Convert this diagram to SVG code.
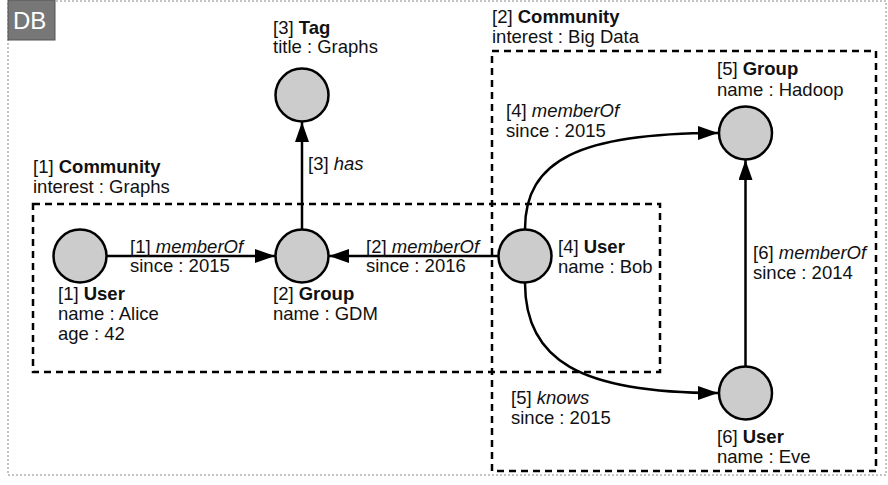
<svg xmlns="http://www.w3.org/2000/svg" width="888" height="485" viewBox="0 0 888 485">
<defs>
<style>
text{font-family:"Liberation Sans",Arial,sans-serif;font-size:18.5px;fill:#111}
.b{font-weight:bold}
.i{font-style:italic}
.node{fill:#cccccc;stroke:#000;stroke-width:2.5}
.edge{fill:none;stroke:#000;stroke-width:2.5;marker-end:url(#arr)}
.comm{fill:none;stroke:#000;stroke-width:2.5;stroke-dasharray:7,5}
</style>
<marker id="arr" markerUnits="userSpaceOnUse" markerWidth="22" markerHeight="16" refX="20" refY="7" orient="auto">
<path d="M0,0 L20,7 L0,14 z" fill="#000"/>
</marker>
</defs>
<rect width="888" height="485" fill="#fff"/>
<g id="db">
<rect x="8" y="1" width="878" height="474" fill="none" stroke="#888" stroke-width="1" stroke-dasharray="2,2"/>
<rect x="8" y="0" width="47" height="40" fill="#777" stroke="#555" stroke-width="1"/>
<text x="13" y="29" style="font-size:24px;fill:#fff">DB</text>
</g>
<g id="community1">
<rect class="comm" x="33" y="204" width="627" height="168"/>
<text x="33" y="173">[1] <tspan class="b">Community</tspan></text>
<text x="33" y="193">interest : Graphs</text>
</g>
<g id="community2">
<rect class="comm" x="492" y="51" width="384" height="420"/>
<text x="492" y="23">[2] <tspan class="b">Community</tspan></text>
<text x="492" y="43">interest : Big Data</text>
</g>
<g id="connectors">
<line class="edge" x1="107" y1="256" x2="275" y2="256"/>
<line class="edge" x1="498" y1="256" x2="329" y2="256"/>
<line class="edge" x1="302" y1="229" x2="302" y2="122"/>
<line class="edge" x1="745.5" y1="366" x2="745.5" y2="160"/>
<path class="edge" d="M525,229 C525,160 580,133 718,133"/>
<path class="edge" d="M525,283 C525,360 580,393 718,393"/>
<text x="130" y="253">[1] <tspan class="i">memberOf</tspan></text>
<text x="130" y="272">since : 2015</text>
<text x="366" y="253">[2] <tspan class="i">memberOf</tspan></text>
<text x="366" y="272">since : 2016</text>
<text x="308" y="170">[3] <tspan class="i">has</tspan></text>
<text x="506" y="117">[4] <tspan class="i">memberOf</tspan></text>
<text x="506" y="137">since : 2015</text>
<text x="511" y="404">[5] <tspan class="i">knows</tspan></text>
<text x="511" y="424">since : 2015</text>
<text x="753" y="259">[6] <tspan class="i">memberOf</tspan></text>
<text x="753" y="279">since : 2014</text>
</g>
<g id="n1">
<circle class="node" cx="80" cy="256" r="26.5"/>
<text x="58" y="300">[1] <tspan class="b">User</tspan></text>
<text x="58" y="320">name : Alice</text>
<text x="58" y="340">age : 42</text>
</g>
<g id="n2">
<circle class="node" cx="302" cy="256" r="26.5"/>
<text x="273" y="300">[2] <tspan class="b">Group</tspan></text>
<text x="273" y="320">name : GDM</text>
</g>
<g id="n3">
<circle class="node" cx="302" cy="95" r="26.5"/>
<text x="273" y="34">[3] <tspan class="b">Tag</tspan></text>
<text x="273" y="53">title : Graphs</text>
</g>
<g id="n4">
<circle class="node" cx="525" cy="256" r="26.5"/>
<text x="558" y="253">[4] <tspan class="b">User</tspan></text>
<text x="558" y="273">name : Bob</text>
</g>
<g id="n5">
<circle class="node" cx="745.5" cy="133" r="26.5"/>
<text x="717" y="75">[5] <tspan class="b">Group</tspan></text>
<text x="717" y="96">name : Hadoop</text>
</g>
<g id="n6">
<circle class="node" cx="745.5" cy="393" r="26.5"/>
<text x="717" y="443">[6] <tspan class="b">User</tspan></text>
<text x="717" y="463">name : Eve</text>
</g>
</svg>
